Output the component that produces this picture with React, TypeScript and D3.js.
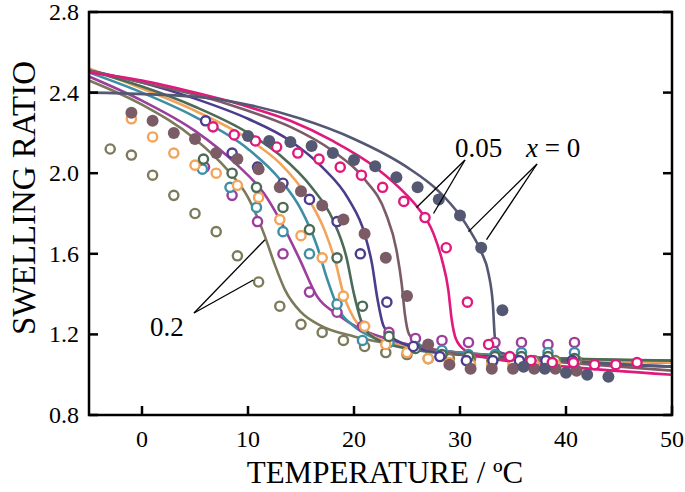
import React from "react";
import * as d3 from "d3";

const xTicks = [0, 10, 20, 30, 40, 50];
const yTicks = [0.8, 1.2, 1.6, 2.0, 2.4, 2.8];

const seriesNames = ["x0", "x005", "brown", "indigo", "green", "orange", "teal", "purple", "x02"];
const seriesColors = ["#545872", "#e0197d", "#7b5c66", "#4b3c8c", "#4c6b56", "#f2a45a", "#3e8fa6", "#9c3f9c", "#7d7a5c"];
const seriesFilled = [true, false, true, false, false, false, false, false, false];

// model curves [T, S]
const curveX0: [number, number][] = [[-5,2.40],[5,2.38],[10,2.34],[15,2.27],[20,2.17],[25,2.03],[28,1.91],[30,1.79],[31,1.71],[32,1.61],[32.7,1.50],[33.1,1.35],[33.3,1.18],[33.8,1.11],[36,1.09],[40,1.07],[50,1.04]];
const curveX005: [number, number][] = [[-5,2.50],[0,2.46],[5,2.40],[10,2.33],[14,2.26],[18,2.16],[22,2.03],[25,1.89],[26,1.83],[27.5,1.70],[28.3,1.57],[28.9,1.42],[29.2,1.28],[29.6,1.18],[30.5,1.12],[32,1.09],[40,1.04],[50,1.00]];
const curveBrown: [number, number][] = [[-5,2.51],[0,2.45],[5,2.39],[10,2.31],[14,2.23],[18,2.11],[21,1.97],[23,1.80],[24,1.62],[24.5,1.45],[24.8,1.30],[25.2,1.20],[26.5,1.14],[30,1.10],[40,1.06],[50,1.02]];
const curveIndigo: [number, number][] = [[-5,2.51],[0,2.45],[5,2.37],[10,2.27],[14,2.16],[17,2.03],[19.5,1.87],[21,1.70],[21.7,1.55],[22.2,1.38],[22.8,1.24],[24,1.17],[27,1.12],[35,1.08],[50,1.04]];
const curveGreen: [number, number][] = [[-5,2.51],[0,2.43],[5,2.33],[10,2.20],[13,2.09],[16,1.93],[18,1.77],[19.3,1.58],[20,1.40],[20.8,1.25],[22,1.18],[25,1.13],[30,1.10],[40,1.08],[50,1.07]];
const curveOrange: [number, number][] = [[-5,2.52],[0,2.42],[5,2.31],[10,2.17],[13,2.05],[15.5,1.89],[17.2,1.72],[18.3,1.55],[19,1.40],[20,1.28],[21.5,1.20],[24,1.15],[30,1.10],[50,1.06]];
const curveTeal: [number, number][] = [[-5,2.50],[0,2.40],[5,2.28],[10,2.12],[13,1.97],[15,1.82],[16.5,1.64],[17.5,1.47],[18.5,1.33],[20,1.24],[22,1.18],[25,1.14],[30,1.11],[50,1.06]];
const curvePurple: [number, number][] = [[-5,2.48],[0,2.36],[5,2.21],[9,2.04],[11.5,1.90],[13.3,1.74],[14.9,1.57],[16.5,1.39],[18.4,1.30],[20.5,1.23],[23,1.18],[27,1.13],[35,1.09],[50,1.06]];
const curveX02: [number, number][] = [[-5,2.46],[0,2.34],[5,2.17],[8,2.02],[10,1.88],[11.5,1.70],[12.5,1.55],[13.5,1.42],[15,1.31],[17,1.24],[20,1.19],[25,1.14],[30,1.11],[40,1.08],[50,1.07]];

// measured points
const tX0 = [10,12,14,16,18,20,22,24,26,28,30,32,34,36,38,40,42,44];
const sX0 = [2.185,2.16,2.155,2.135,2.10,2.065,2.035,1.98,1.93,1.87,1.79,1.63,1.32,1.04,1.03,1.01,1.00,0.99];
const tX005 = [6.7,8.7,10.7,12.7,14.7,16.7,18.7,20.7,22.7,24.7,26.7,28.7,30.7,32.7,34.7,36.7,38.7,40.7,42.7,44.7,46.7];
const sX005 = [2.23,2.19,2.16,2.13,2.10,2.07,2.03,1.99,1.93,1.86,1.78,1.63,1.36,1.15,1.09,1.07,1.06,1.06,1.05,1.05,1.06];
const tBrown = [-1,1,3,5,7,9,11,13,15,17,19,21,23,25,27,29,31,33,35,37,39,41];
const sBrown = [2.30,2.26,2.20,2.17,2.10,2.07,2.02,1.93,1.91,1.84,1.77,1.70,1.58,1.39,1.15,1.05,1.03,1.03,1.03,1.03,1.03,1.02];
const tIndigo = [6,8.5,10.9,13.3,15.8,18.4,20.6,23.1,25.6,28.1,30.6,33.1,35.6,38.1,40.6];
const sIndigo = [2.26,2.10,2.03,1.95,1.87,1.76,1.60,1.36,1.14,1.09,1.07,1.07,1.07,1.07,1.07];
const tGreen = [5.8,8.5,10.8,13.3,15.8,18.4,20.8,23.3,25.8,28.3,30.8,33.3,35.8,38.3,40.8];
const sGreen = [2.07,2.00,1.93,1.83,1.72,1.58,1.34,1.19,1.13,1.10,1.09,1.09,1.09,1.09,1.08];
const tOrange = [-1,1,3,5,7,9,11,13,15,17,19,21,23,25,27,29,31,33,35,37,39];
const sOrange = [2.27,2.18,2.10,2.04,2.00,1.94,1.88,1.77,1.69,1.58,1.39,1.24,1.15,1.11,1.08,1.06,1.05,1.05,1.05,1.05,1.05];
const tTeal = [5.7,8.3,10.8,13.3,15.8,18.4,20.8,23.3,25.8,28.3,30.8,33.3,35.8,38.3,40.8];
const sTeal = [2.02,1.93,1.83,1.71,1.60,1.35,1.17,1.16,1.14,1.12,1.10,1.10,1.11,1.11,1.11];
const tPurple = [5.9,8.5,10.9,13.3,15.8,18.4,20.8,23.3,25.8,28.3,30.8,33.3,35.8,38.3,40.8];
const sPurple = [2.03,1.89,1.76,1.60,1.41,1.31,1.24,1.21,1.18,1.17,1.16,1.16,1.16,1.15,1.16];
const tX02 = [-3,-1,1,3,5,7,9,11,13,15,17,19,21,23,25,27,29,31,33,35,37,39,41];
const sX02 = [2.12,2.09,1.99,1.89,1.80,1.71,1.59,1.46,1.34,1.25,1.21,1.17,1.14,1.11,1.10,1.08,1.08,1.08,1.07,1.07,1.07,1.07,1.07];

const curves = [curveX0, curveX005, curveBrown, curveIndigo, curveGreen, curveOrange, curveTeal, curvePurple, curveX02];
const pointsT = [tX0, tX005, tBrown, tIndigo, tGreen, tOrange, tTeal, tPurple, tX02];
const pointsS = [sX0, sX005, sBrown, sIndigo, sGreen, sOrange, sTeal, sPurple, sX02];

// annotation leader targets [T, S]
const lead005: [number, number][] = [[25.9, 1.83], [27.5, 1.80]];
const leadX0: [number, number][] = [[30.8, 1.71], [32.5, 1.67]];
const lead02: [number, number][] = [[11.6, 1.67], [10.5, 1.47]];

const L = 89, R = 672, T0 = 12, B = 415;
const FONT = "'Liberation Serif', 'Times New Roman', serif";

export default function App() {
  const x = d3.scaleLinear().domain([-5, 50]).range([L, R]);
  const y = d3.scaleLinear().domain([0.8, 2.8]).range([B, T0]);
  const line = d3.line<[number, number]>().x(d => x(d[0])).y(d => y(d[1])).curve(d3.curveMonotoneX);
  const drawOrder = [8, 7, 6, 5, 4, 3, 2, 1, 0];

  return (
    <svg width={685} height={492} style={{ position: "absolute", left: 0, top: 0, background: "#fff" }} fontFamily={FONT}>
      <defs>
        <clipPath id="plot"><rect x={L} y={T0} width={R - L} height={B - T0} /></clipPath>
      </defs>
      <g clipPath="url(#plot)">
        {drawOrder.map(i => (
          <path key={"c" + i} d={line(curves[i]) || ""} fill="none" stroke={seriesColors[i]} strokeWidth={2.6} />
        ))}
        {drawOrder.map(i => (
          <g key={"p" + i}>
            {pointsT[i].map((t, j) => seriesFilled[i] ? (
              <circle key={j} cx={x(t)} cy={y(pointsS[i][j])} r={6} fill={seriesColors[i]} />
            ) : (
              <circle key={j} cx={x(t)} cy={y(pointsS[i][j])} r={4.6} fill="#fff" stroke={seriesColors[i]} strokeWidth={2.4} />
            ))}
          </g>
        ))}
      </g>
      {/* frame */}
      <rect x={L} y={T0} width={R - L} height={B - T0} fill="none" stroke="#000" strokeWidth={2.5} />
      {yTicks.map(v => (
        <g key={"y" + v}>
          <line x1={L} x2={L + 9} y1={y(v)} y2={y(v)} stroke="#000" strokeWidth={2.5} />
          <line x1={R} x2={R - 9} y1={y(v)} y2={y(v)} stroke="#000" strokeWidth={2.5} />
          <text x={79} y={y(v) + 8} textAnchor="end" fontSize={24}>{v.toFixed(1)}</text>
        </g>
      ))}
      {xTicks.map(v => (
        <g key={"x" + v}>
          <line x1={x(v)} x2={x(v)} y1={B} y2={B - 9} stroke="#000" strokeWidth={2.5} />
          <text x={x(v)} y={447} textAnchor="middle" fontSize={24}>{v}</text>
        </g>
      ))}
      <text x={385} y={483} textAnchor="middle" fontSize={31}>TEMPERATURE / ºC</text>
      <text transform="translate(35,198) rotate(-90)" textAnchor="middle" fontSize={33}>SWELLING RATIO</text>
      {/* annotations */}
      <text x={455} y={157} fontSize={27}>0.05</text>
      {lead005.map((p, k) => <line key={"a" + k} x1={465} y1={160} x2={x(p[0])} y2={y(p[1])} stroke="#000" strokeWidth={1.3} />)}
      <text x={526} y={157} fontSize={27}><tspan fontStyle="italic">x</tspan> = 0</text>
      {leadX0.map((p, k) => <line key={"b" + k} x1={537} y1={164} x2={x(p[0])} y2={y(p[1])} stroke="#000" strokeWidth={1.3} />)}
      <text x={150} y={336} fontSize={27}>0.2</text>
      {lead02.map((p, k) => <line key={"d" + k} x1={194} y1={313} x2={x(p[0])} y2={y(p[1])} stroke="#000" strokeWidth={1.3} />)}
    </svg>
  );
}
